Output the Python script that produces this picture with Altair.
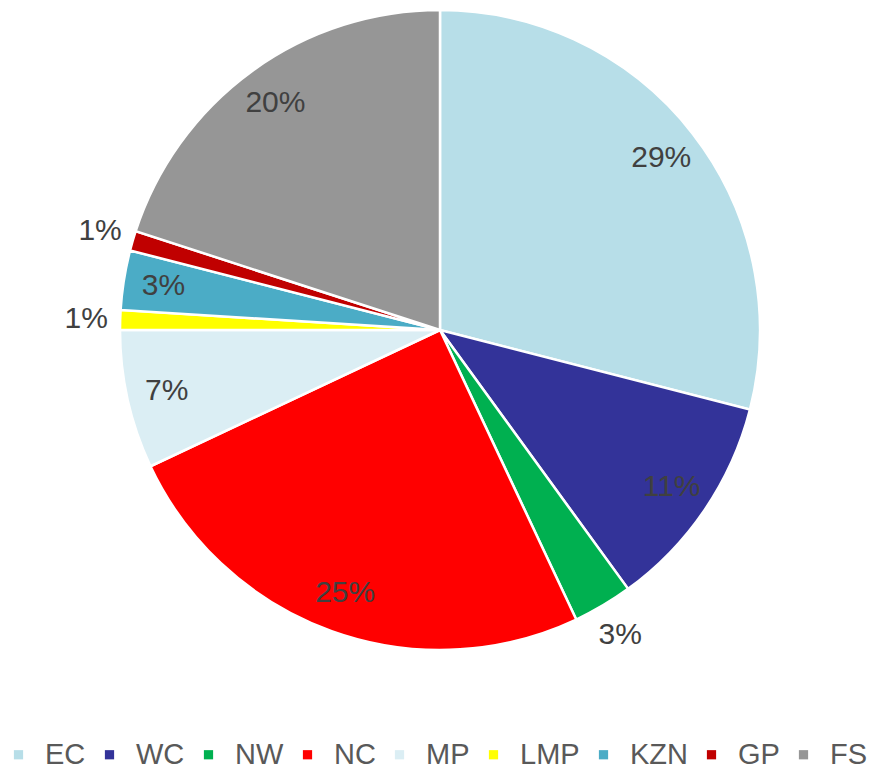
import altair as alt
import pandas as pd

categories = ["EC", "WC", "NW", "NC", "MP", "LMP", "KZN", "GP", "FS"]
values = [29, 11, 3, 25, 7, 1, 3, 1, 20]
colors = ["#B7DEE8", "#333399", "#00B050", "#FF0000", "#DBEEF4",
          "#FFFF00", "#4BACC6", "#C00000", "#969696"]
outside = ["NW", "LMP", "GP"]

df = pd.DataFrame({"cat": categories, "value": values, "idx": list(range(len(categories)))})
df["label"] = [f"{v}%" for v in values]
df["outside"] = [c in outside for c in categories]

CX, CY, R = 432, 322, 320

base = alt.Chart(df).encode(
    theta=alt.Theta("value:Q", stack=True),
    order=alt.Order("idx:Q"),
)

pie = base.mark_arc(stroke="white", strokeWidth=2.5, radius=R).encode(
    x=alt.value(CX), y=alt.value(CY),
    color=alt.Color(
        "cat:N",
        scale=alt.Scale(domain=categories, range=colors),
        sort=categories,
        legend=alt.Legend(
            title=None, orient="none", direction="horizontal",
            legendX=-4, legendY=732, padding=0,
            symbolType="square", symbolSize=85, symbolStrokeWidth=0,
            labelFont="Liberation Sans", labelFontSize=29, labelColor="#595959",
            labelOffset=12, columnPadding=9, labelLimit=200,
        ),
    ),
)

inside_txt = base.mark_text(
    radius=280, font="Liberation Sans", fontSize=30, color="#404040"
).encode(
    x=alt.value(CX), y=alt.value(CY), text="label:N",
    opacity=alt.condition("datum.outside", alt.value(0), alt.value(1)),
)
outside_txt = base.mark_text(
    radius=354, font="Liberation Sans", fontSize=30, color="#404040"
).encode(
    x=alt.value(CX), y=alt.value(CY), text="label:N",
    opacity=alt.condition("datum.outside", alt.value(1), alt.value(0)),
)

chart = alt.layer(pie, inside_txt, outside_txt).properties(
    width=863, height=764, padding=0,
    autosize=alt.AutoSizeParams(type="none"),
).configure_view(stroke=None)

chart.save("out.html", embed_options={"renderer": "svg", "actions": False})
